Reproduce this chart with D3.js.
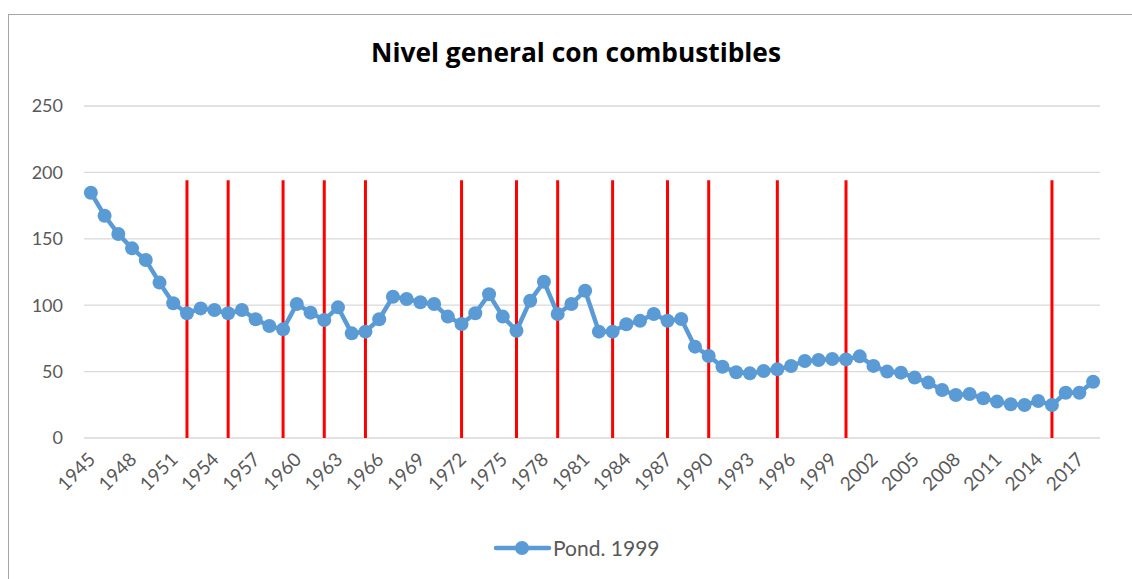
<!DOCTYPE html>
<html lang="es">
<head>
    <meta charset="UTF-8">
    <title>Nivel general con combustibles</title>
    <script src="https://d3js.org/d3.v7.min.js"></script>
    <style>
        body, html {
            margin: 0;
            padding: 0;
            background: #fff;
            overflow: hidden;
        }
        svg text {
            font-family: Lato, "Open Sans", sans-serif;
        }
    </style>
</head>
<body>
    <svg id="chart" width="1132" height="579"></svg>
    <script>
        // Datos
        const years = d3.range(1945, 2019);
        const values = [
            184.7, 167.4, 153.6, 142.8, 134.0, 117.0, 101.5, 93.9, 97.6, 96.4,
            93.9, 96.4, 89.4, 84.3, 81.8, 100.9, 94.4, 88.9, 98.4, 78.8,
            80.1, 89.4, 106.4, 104.7, 102.2, 100.9, 91.4, 85.8, 93.9, 108.2,
            91.4, 80.8, 103.4, 117.7, 93.4, 100.9, 110.9, 80.1, 80.1, 85.6,
            88.2, 93.4, 88.3, 89.6, 68.8, 61.8, 53.7, 49.5, 48.7, 50.5,
            51.7, 54.2, 58.0, 58.7, 59.5, 59.2, 61.5, 54.3, 50.0, 49.2,
            45.5, 41.7, 36.1, 32.4, 33.1, 29.9, 27.4, 25.4, 24.8, 27.9,
            24.8, 34.1, 34.1, 42.4
        ];
        // años marcados con línea roja
        const markYears = [1952, 1955, 1959, 1962, 1965, 1972, 1976, 1979, 1983, 1987, 1990, 1995, 2000, 2015];
        const markValue = 194;
        const yTicks = [0, 50, 100, 150, 200, 250];
        const xTickYears = years.filter(y => (y - 1945) % 3 === 0);

        const svg = d3.select("#chart");

        // borde del área del gráfico
        svg.append("rect")
            .attr("x", 8.5).attr("y", 14.5)
            .attr("width", 1140).attr("height", 600)
            .attr("fill", "none")
            .attr("stroke", "#a6a6a6")
            .attr("stroke-width", 1);

        const plotLeft = 84, plotRight = 1100, plotTop = 106, plotBottom = 438;

        const x = d3.scaleBand()
            .domain(years)
            .range([plotLeft, plotRight]);

        const y = d3.scaleLinear()
            .domain([0, 250])
            .range([plotBottom, plotTop]);

        const cx = d => x(d) + x.bandwidth() / 2;

        // cuadrícula
        svg.append("g")
            .selectAll("line")
            .data(yTicks)
            .enter().append("line")
            .attr("x1", plotLeft).attr("x2", plotRight)
            .attr("y1", d => y(d)).attr("y2", d => y(d))
            .attr("stroke", "#d9d9d9")
            .attr("stroke-width", 1.3);

        // etiquetas eje y
        svg.append("g")
            .selectAll("text")
            .data(yTicks)
            .enter().append("text")
            .attr("x", 63)
            .attr("y", d => y(d))
            .attr("dy", "0.35em")
            .attr("text-anchor", "end")
            .style("font-size", "18px")
            .style("fill", "#595959")
            .text(d => d);

        // etiquetas eje x
        svg.append("g")
            .selectAll("text")
            .data(xTickYears)
            .enter().append("text")
            .attr("transform", d => `translate(${cx(d) + 1},${plotBottom + 18}) rotate(-45)`)
            .attr("text-anchor", "end")
            .attr("dy", "0.35em")
            .style("font-size", "19px")
            .style("fill", "#595959")
            .text(d => d);

        // líneas rojas
        svg.append("g")
            .selectAll("line")
            .data(markYears)
            .enter().append("line")
            .attr("x1", d => cx(d)).attr("x2", d => cx(d))
            .attr("y1", y(0)).attr("y2", y(markValue))
            .attr("stroke", "#ff0000")
            .attr("stroke-width", 3);

        // serie
        const line = d3.line()
            .x((d, i) => cx(years[i]))
            .y(d => y(d));

        svg.append("path")
            .datum(values)
            .attr("d", line)
            .attr("fill", "none")
            .attr("stroke", "#5b9bd5")
            .attr("stroke-width", 4.5)
            .attr("stroke-linejoin", "round");

        svg.append("g")
            .selectAll("circle")
            .data(values)
            .enter().append("circle")
            .attr("cx", (d, i) => cx(years[i]))
            .attr("cy", d => y(d))
            .attr("r", 7)
            .attr("fill", "#5b9bd5");

        // título
        svg.append("text")
            .attr("x", 576)
            .attr("y", 62)
            .attr("text-anchor", "middle")
            .style("font-family", "'Open Sans', sans-serif")
            .style("font-size", "26.3px")
            .style("font-weight", "bold")
            .style("fill", "#000")
            .text("Nivel general con combustibles");

        // leyenda
        const lg = svg.append("g");
        lg.append("line")
            .attr("x1", 496).attr("x2", 549)
            .attr("y1", 548).attr("y2", 548)
            .attr("stroke", "#5b9bd5")
            .attr("stroke-width", 4.5)
            .attr("stroke-linecap", "round");
        lg.append("circle")
            .attr("cx", 522).attr("cy", 548).attr("r", 7)
            .attr("fill", "#5b9bd5");
        lg.append("text")
            .attr("x", 553).attr("y", 556)
            .style("font-size", "21px")
            .style("fill", "#595959")
            .text("Pond. 1999");
    </script>
</body>
</html>
